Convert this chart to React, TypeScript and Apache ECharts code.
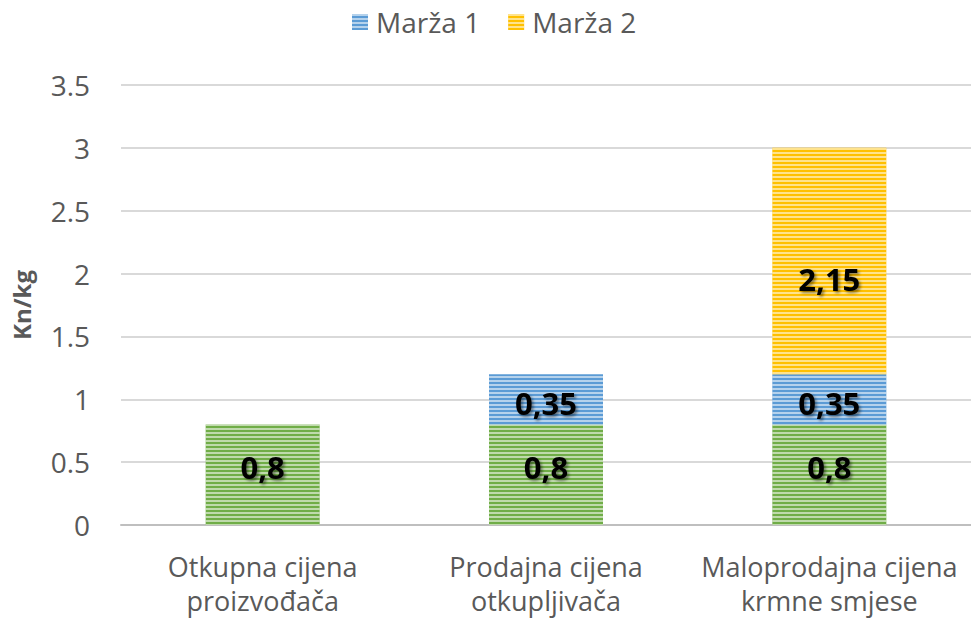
import React, { useEffect, useRef } from "react";
import * as echarts from "echarts";

const categories = ["Otkupna cijena\nproizvođača", "Prodajna cijena\notkupljivača", "Maloprodajna cijena\nkrmne smjese"];
const baseValues = [0.8, 0.8, 0.8];
const marza1Values = [null, 0.4, 0.4];
const marza2Values = [null, null, 1.8];
const baseLabels = ["0,8", "0,8", "0,8"];
const marza1Labels = ["", "0,35", "0,35"];
const marza2Labels = ["", "", "2,15"];

const FONT = "'Open Sans', sans-serif";

const stripe = (color: string) => ({
  color,
  decal: {
    symbol: "rect",
    symbolSize: 1,
    dashArrayX: [1, 0],
    dashArrayY: [1.6, 1.7],
    color: "rgba(255,255,255,0.55)",
    rotation: 0,
  },
});

const labelStyle = (labels: string[], offset: number[]) => ({
  show: true,
  position: "inside",
  offset,
  formatter: (p: any) => labels[p.dataIndex],
  color: "#000",
  fontFamily: FONT,
  fontWeight: "bold",
  fontSize: 31,
  textShadowColor: "rgba(0,0,0,0.45)",
  textShadowBlur: 3,
  textShadowOffsetX: 2,
  textShadowOffsetY: 2,
});

export default function App() {
  const ref = useRef<HTMLDivElement>(null);
  useEffect(() => {
    const chart = echarts.init(ref.current!, null, { renderer: "svg" });
    chart.setOption({
      animation: false,
      backgroundColor: "#fff",
      legend: {
        top: 3,
        left: 347,
        itemWidth: 16,
        itemHeight: 16,
        itemGap: 28,
        icon: "rect",
        data: ["Marža 1", "Marža 2"],
        textStyle: { fontFamily: FONT, fontSize: 28, color: "#595959", padding: [0, 0, 0, 3] },
      },
      grid: { left: 121, right: 0, top: 85, bottom: 96 },
      xAxis: {
        type: "category",
        data: categories,
        axisLine: { lineStyle: { color: "#BFBFBF", width: 2 } },
        axisTick: { show: false },
        axisLabel: {
          fontFamily: FONT,
          fontSize: 27,
          color: "#595959",
          lineHeight: 34,
          margin: 24,
          interval: 0,
        },
      },
      yAxis: {
        type: "value",
        min: 0,
        max: 3.5,
        interval: 0.5,
        name: "Kn/kg",
        nameLocation: "middle",
        nameGap: 88,
        nameTextStyle: { fontFamily: FONT, fontSize: 24, fontWeight: "bold", color: "#595959" },
        axisLine: { show: false },
        axisTick: { show: false },
        splitLine: { lineStyle: { color: "#D9D9D9", width: 2 } },
        axisLabel: { fontFamily: FONT, fontSize: 28, color: "#595959", margin: 31 },
      },
      series: [
        {
          name: "Cijena",
          type: "bar",
          stack: "total",
          barWidth: 114,
          data: baseValues,
          itemStyle: stripe("#70AD47"),
          label: labelStyle(baseLabels, [0, -8]),
        },
        {
          name: "Marža 1",
          type: "bar",
          stack: "total",
          barWidth: 114,
          data: marza1Values,
          itemStyle: stripe("#5B9BD5"),
          label: labelStyle(marza1Labels, [0, 4]),
        },
        {
          name: "Marža 2",
          type: "bar",
          stack: "total",
          barWidth: 114,
          data: marza2Values,
          itemStyle: stripe("#FFC000"),
          label: labelStyle(marza2Labels, [0, 18]),
        },
      ],
    });
    return () => chart.dispose();
  }, []);
  return <div ref={ref} style={{ width: 971, height: 621, position: "absolute", left: 0, top: 0 }} />;
}
